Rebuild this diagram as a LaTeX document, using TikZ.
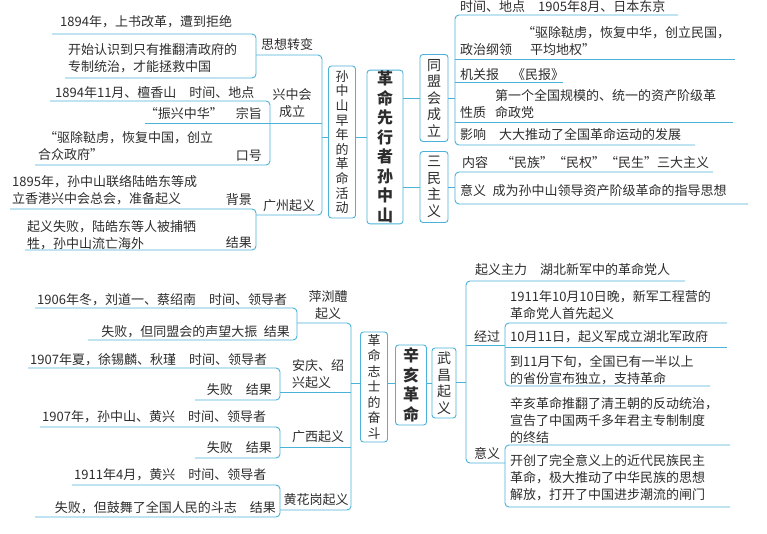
\documentclass[tikz,border=0pt]{standalone}
\usepackage{fontspec}
\setmainfont{Noto Sans CJK SC}
\definecolor{lc}{RGB}{75,178,218}
\definecolor{tc}{RGB}{45,45,45}
\tikzset{
	br/.style = {draw = lc, line width = 0.9pt, rounded corners = 4pt},
	txt/.style = {inner sep = 0pt, align = left, text = tc, font = \fontsize{13}{17}\selectfont},
	box/.style = {draw = lc, line width = 0.9pt, rounded corners = 3pt, inner sep = 1pt, align = center, text = tc},
}

\begin{document}
\begin{tikzpicture}[x = 1pt, y = -1pt]
	\useasboundingbox [fill = white] (0, 0) rectangle (767, 533);
	% centre boxes
	\node [box, minimum width = 36pt, minimum height = 150pt, font = \bfseries\fontsize{16}{19.5}\selectfont] (root) at (385, 147) {革\\命\\先\\行\\者\\孙\\中\\山};
	\node [box, minimum width = 27pt, minimum height = 152pt, font = \fontsize{13}{14.6}\selectfont] (early) at (342, 142) {孙\\中\\山\\早\\年\\的\\革\\命\\活\\动};
	\node [box, minimum width = 28pt, minimum height = 87pt, font = \fontsize{14}{16.5}\selectfont] (tmh) at (434, 98) {同\\盟\\会\\成\\立};
	\node [box, minimum width = 28pt, minimum height = 71pt, font = \fontsize{14}{16.5}\selectfont] (smzy) at (434, 187) {三\\民\\主\\义};
	\node [box, minimum width = 31pt, minimum height = 80pt, font = \bfseries\fontsize{16}{19.5}\selectfont] (xhgm) at (411, 385) {辛\\亥\\革\\命};
	\node [box, minimum width = 27pt, minimum height = 110pt, font = \fontsize{13}{15.5}\selectfont] (zs) at (374, 387) {革\\命\\志\\士\\的\\奋\\斗};
	\node [box, minimum width = 24pt, minimum height = 70pt, font = \fontsize{14}{16.5}\selectfont] (wc) at (444, 383) {武\\昌\\起\\义};
	\draw [br] (early.east |- 0, 137) -- (root.west |- 0, 137);
	\draw [br] (root.east |- 0, 98) -- (tmh.west);
	\draw [br] (root.east |- 0, 187) -- (smzy.west);
	\draw [br] (zs.east |- 0, 383) -- (xhgm.west |- 0, 383);
	\draw [br] (xhgm.east |- 0, 383) -- (wc.west |- 0, 383);

	% 孙中山早年的革命活动
	\draw [br] (256, 55) -- (322, 55) -- (322, 215) -- (256, 215);
	\draw [br] (322, 137) -- (early.west |- 0, 137);
	\node [txt] (sxzb) at (287, 45) {思想转变};
	\node [txt, anchor = west] (a1) at (60, 22) {1894年，上书改革，遭到拒绝};
	\node [txt, anchor = west] (a2) at (68, 58) {开始认识到只有推翻清政府的\\专制统治，才能拯救中国};
	\draw [br] (52, 34) -- (256, 34) -- (256, 78) -- (65, 78);
	\node [txt, align = center] (xzh) at (292, 103) {兴中会\\成立};
	\draw [br] (50, 101) -- (270, 101) -- (270, 165) -- (35, 165);
	\draw [br] (145, 123) -- (322, 123);
	\node [txt, anchor = west] (b1) at (55, 93) {1894年11月、檀香山\quad 时间、地点};
	\node [txt, anchor = east] (b2) at (262, 113) {“振兴中华”\quad 宗旨};
	\node [txt, anchor = west] (b3) at (38, 146) {\hspace*{6pt}“驱除鞑虏，恢复中国，创立\\合众政府”};
	\node [txt, anchor = east] (b3l) at (262, 156) {口号};
	\node [txt] (gzqy) at (289, 206) {广州起义};
	\draw [br] (10, 209) -- (256, 209) -- (256, 250) -- (25, 250);
	\node [txt, anchor = west] (c1) at (12, 190) {1895年，孙中山联络陆皓东等成\\立香港兴中会总会，准备起义};
	\node [txt, anchor = east] (c1l) at (252, 200) {背景};
	\node [txt, anchor = west] (c2) at (27, 235) {起义失败，陆皓东等人被捕牺\\牲，孙中山流亡海外};
	\node [txt, anchor = east] (c2l) at (252, 243) {结果};

	% 同盟会成立, 三民主义
	\draw [br] (678, 15) -- (455, 15) -- (455, 145) -- (695, 145);
	\draw [br] (tmh.east) -- (455, 98);
	\draw [br] (455, 59) -- (735, 59) (455, 82) -- (563, 82) (455, 122) -- (733, 122);
	\node [txt, anchor = west] (d1) at (460, 7) {时间、地点\quad 1905年8月、日本东京};
	\node [txt, anchor = west] (d2) at (460, 50) {政治纲领};
	\node [txt, anchor = west] (d2t) at (522, 41) {“驱除鞑虏，恢复中华，创立民国，\\\hspace*{8pt}平均地权”};
	\node [txt, anchor = west] (d3) at (460, 75) {机关报\quad《民报》};
	\node [txt, anchor = west] (d4) at (460, 113) {性质};
	\node [txt, anchor = west] (d4t) at (495, 104) {第一个全国规模的、统一的资产阶级革\\命政党};
	\node [txt, anchor = west] (d5) at (460, 135) {影响\quad 大大推动了全国革命运动的发展};
	\draw [br] (713, 172) -- (455, 172) -- (455, 204) -- (748, 204);
	\draw [br] (smzy.east |- 0, 187) -- (455, 187);
	\node [txt, anchor = west] (e1) at (462, 163) {内容\quad “民族”“民权”“民生”三大主义};
	\node [txt, anchor = west] (e2) at (460, 191) {意义\enspace 成为孙中山领导资产阶级革命的指导思想};

	% 革命志士的奋斗
	\draw [br] (297, 323) -- (351, 323) -- (351, 510) -- (280, 510);
	\draw [br] (280, 392) -- (351, 392) (280, 447) -- (351, 447);
	\draw [br] (351, 383) -- (zs.west |- 0, 383);
	\node [txt, align = center] (plb) at (328, 305) {萍浏醴\\起义};
	\draw [br] (35, 308) -- (297, 308) -- (297, 340) -- (88, 340);
	\node [txt, anchor = west] (f1) at (37, 300) {1906年冬，刘道一、蔡绍南\quad 时间、领导者};
	\node [txt, anchor = east] (f2) at (290, 332) {失败，但同盟会的声望大振\enspace 结果};
	\node [txt] (aqsx) at (318, 374) {安庆、绍\\兴起义};
	\draw [br] (28, 368) -- (280, 368) -- (280, 400) -- (195, 400);
	\node [txt, anchor = west] (g1) at (30, 360) {1907年夏，徐锡麟、秋瑾\quad 时间、领导者};
	\node [txt, anchor = east] (g2) at (272, 390) {失败\quad 结果};
	\node [txt] (gxqy) at (318, 437) {广西起义};
	\draw [br] (40, 427) -- (280, 427) -- (280, 458) -- (195, 458);
	\node [txt, anchor = west] (h1) at (42, 417) {1907年，孙中山、黄兴\quad 时间、领导者};
	\node [txt, anchor = east] (h2) at (272, 448) {失败\quad 结果};
	\node [txt] (hhg) at (316, 500) {黄花岗起义};
	\draw [br] (72, 485) -- (280, 485) -- (280, 517) -- (35, 517);
	\node [txt, anchor = west] (i1) at (74, 475) {1911年4月，黄兴\quad 时间、领导者};
	\node [txt, anchor = east] (i2) at (276, 508) {失败，但鼓舞了全国人民的斗志\quad 结果};

	% 武昌起义
	\draw [br] (685, 281) -- (466, 281) -- (466, 463) -- (505, 463);
	\draw [br] (wc.east |- 0, 382) -- (466, 382) (466, 345) -- (505, 345);
	\node [txt, anchor = west] (j1) at (475, 270) {起义主力\quad 湖北新军中的革命党人};
	\node [txt] (jg) at (487, 336) {经过};
	\draw [br] (727, 323) -- (505, 323) -- (505, 386) -- (710, 386);
	\draw [br] (505, 347) -- (727, 347);
	\node [txt, anchor = west] (k1) at (510, 305) {1911年10月10日晚，新军工程营的\\革命党人首先起义};
	\node [txt, anchor = west] (k2) at (510, 337) {10月11日，起义军成立湖北军政府};
	\node [txt, anchor = west] (k3) at (510, 370) {到11月下旬，全国已有一半以上\\的省份宣布独立，支持革命};
	\node [txt] (yy) at (487, 453) {意义};
	\draw [br] (730, 445) -- (505, 445) -- (505, 507) -- (730, 507);
	\node [txt, anchor = west] (l1) at (510, 420) {辛亥革命推翻了清王朝的反动统治，\\宣告了中国两千多年君主专制制度\\的终结};
	\node [txt, anchor = west] (l2) at (510, 478) {开创了完全意义上的近代民族民主\\革命，极大推动了中华民族的思想\\解放，打开了中国进步潮流的闸门};
\end{tikzpicture}
\end{document}
